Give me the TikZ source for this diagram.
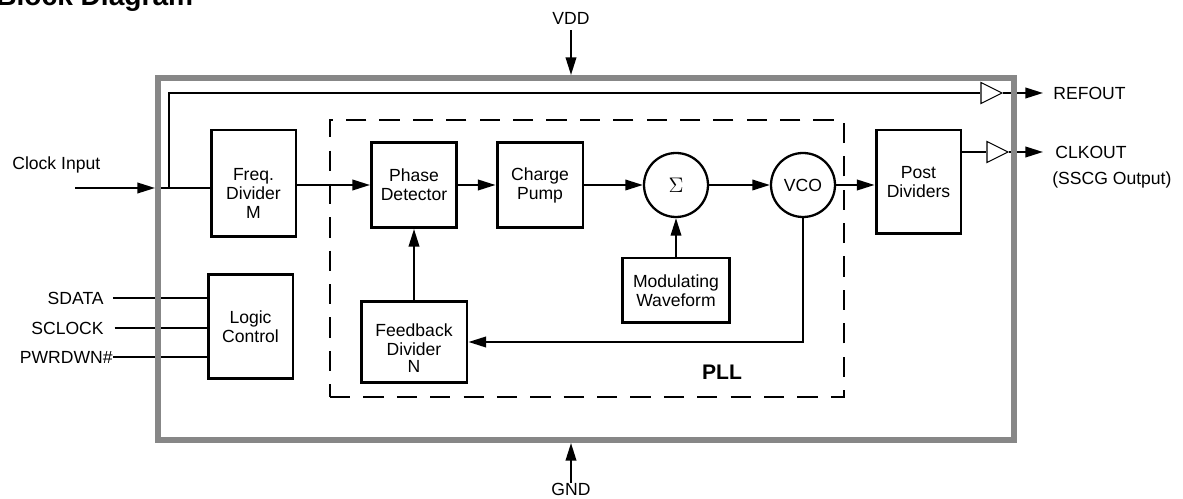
\documentclass[tikz,border=0pt]{standalone}
\usepackage{fontspec}
\setmainfont{Liberation Sans}
\usepackage{xcolor}
\usepackage{tikz}
\usetikzlibrary{arrows.meta,positioning,shapes.geometric}
\definecolor{ink}{HTML}{000000}
\definecolor{chip}{HTML}{878787}

\begin{document}
\begin{tikzpicture}[x=0.02cm,y=-0.02cm,
  font=\fontsize{10}{10.8}\selectfont,
  blk/.style={draw=ink,line width=1.7pt,align=center,inner sep=0pt},
  sumnode/.style={circle,draw=ink,line width=1.3pt,minimum size=1.28cm,inner sep=0pt},
  buf/.style={isosceles triangle,isosceles triangle stretches,shape border rotate=0,draw=ink,
    line width=0.6pt,minimum width=0.42cm,minimum height=0.42cm,inner sep=0pt},
  wire/.style={draw=ink,line width=1.1pt},
  sig/.style={wire,-{Triangle[length=10pt,width=6pt]}},
  pin/.style={inner sep=0pt}]
\useasboundingbox (0,0) rectangle (1183,499);

% heading, cut by the page edge
\node[anchor=base west,pin,font=\fontsize{16}{18}\selectfont\bfseries] (title) at (-4,6) {Block Diagram};

% supply pins
\node[anchor=base,pin] (vdd) at (571,25) {VDD};
\node[anchor=base,pin] (gnd) at (571,496) {GND};
\coordinate (vddpin) at (571,75);
\coordinate (gndpin) at (571,443);
\draw[sig] ([yshift=-0.1cm]vdd.south) -- (vddpin);
\draw[sig] (gnd.north) -- (gndpin);

% PLL frame
\node[draw=ink,line width=1pt,dash pattern=on 11.5pt off 7.5pt,minimum width=10.28cm,minimum height=5.54cm] (pll) at (587,258.5) {};
\node[font=\fontsize{12}{14}\selectfont\bfseries,pin] (plllbl) at (722,372) {PLL};

% blocks
\node[blk,minimum width=1.7cm,minimum height=2.14cm] (freq) at (253.5,183.5) {};
\node[align=center,pin] (freqtxt) at (253.5,193) {Freq.\\Divider\\M};
\node[blk,minimum width=1.7cm,minimum height=1.7cm] (pd) at (414,185) {Phase\\Detector};
\node[blk,minimum width=1.72cm,minimum height=1.7cm] (cp) at (540,185) {Charge\\Pump};
\node[sumnode,font=\fontsize{12}{12}\selectfont] (sum) at (676,185) {$\Sigma$};
\node[sumnode] (vco) at (803,185) {VCO};
\node[blk,minimum width=2.14cm,minimum height=1.3cm] (mod) at (676,290.5) {Modulating\\Waveform};
\node[blk,minimum width=2.12cm,minimum height=1.62cm] (fb) at (414,342) {};
\node[align=center,pin] (fbtxt) at (414,348) {Feedback\\Divider\\[-1.2pt]N};
\node[blk,minimum width=1.7cm,minimum height=2.08cm] (post) at (918.5,182) {Post\\Dividers};
\node[blk,minimum width=1.7cm,minimum height=2.1cm] (logic) at (250.5,326.5) {Logic\\Control};

% output buffers
\node[buf] (refbuf) at (987.5,93) {};
\node[buf] (clkbuf) at (993.5,152) {};

% clock input and reference tap
\node[anchor=base west,pin] (clklbl) at (12,170) {Clock Input};
\coordinate (clkin) at (75,188);
\coordinate (pinclk) at (155,188);
\coordinate (tap) at (169,188);
\draw[sig] (clkin) -- (pinclk);
\draw[wire] (pinclk) -- (freq.west |- pinclk);
\draw[wire] (tap) |- (refbuf.west);

% PLL loop
\draw[sig] (freq.east |- pd.west) -- (pd.west);
\draw[sig] (pd) -- (cp);
\draw[sig] (cp) -- (sum);
\draw[sig] (sum) -- (vco);
\draw[sig] (vco) -- (post.west |- vco);
\draw[sig] (mod) -- (sum);
\draw[sig] (vco.south) |- (fb.east);
\draw[sig] (fb) -- (pd);

% outputs
\node[anchor=west,pin] (reflbl) at (1053,93) {REFOUT};
\node[anchor=west,pin] (clklbl2) at (1055,152) {CLKOUT};
\node[anchor=base west,pin] (sscg) at (1052,185) {(SSCG Output)};
\coordinate (refpin) at (1043,93);
\coordinate (clkpin) at (1043,152);
\draw[wire] (post.east |- clkbuf) -- (clkbuf.west);
\draw[sig] (refbuf.east) -- (refpin);
\draw[sig] (clkbuf.east) -- (clkpin);

% serial control
\node[anchor=east,pin] (sdata) at (104,298) {SDATA};
\node[anchor=east,pin] (sclock) at (104,328) {SCLOCK};
\node[anchor=east,pin] (pwrdwn) at (113,357) {PWRDWN\#};
\draw[wire,shorten <=5pt] (sdata.east) -- (logic.west |- sdata.east);
\draw[wire,shorten <=6pt] (sclock.east) -- (logic.west |- sclock.east);
\draw[wire] (pwrdwn.east) -- (logic.west |- pwrdwn.east);

% chip outline on top
\node[draw=chip,line width=3.4pt,minimum width=17.12cm,minimum height=7.24cm] (chipbox) at (586,259) {};
\end{tikzpicture}
\end{document}
